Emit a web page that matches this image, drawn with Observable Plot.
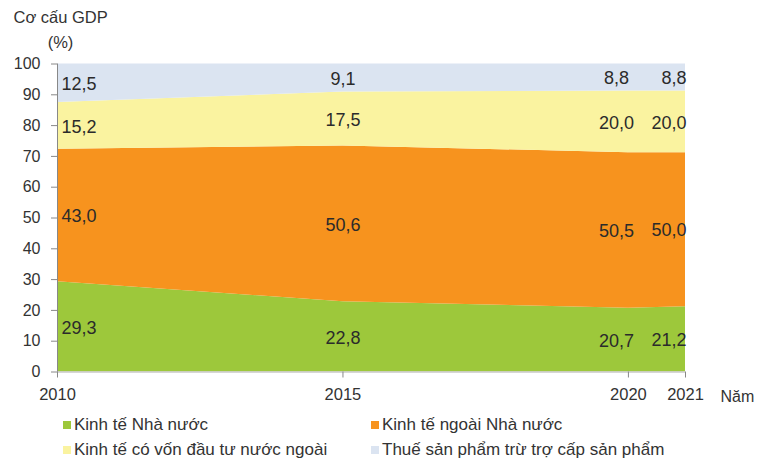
<!DOCTYPE html>
<html><head><meta charset="utf-8">
<script src="https://cdn.jsdelivr.net/npm/d3@7"></script>
<script src="https://cdn.jsdelivr.net/npm/@observablehq/plot@0.6"></script>
<style>
body{margin:0;background:#fff;font-family:"Liberation Sans",Arial,sans-serif;}
#wrap{position:relative;width:763px;height:461px;overflow:hidden;}
#legend{position:absolute;left:0;top:410px;width:763px;height:51px;}
.item{position:absolute;font-size:17px;color:#333;white-space:nowrap;line-height:20px;}
.sw{display:inline-block;width:8px;height:8px;margin-right:3px;vertical-align:1px;}
</style></head><body><div id="wrap"><div id="chart"></div><div id="legend"></div></div>
<script>
const years = [2010, 2015, 2020, 2021];
const seriesNames = ["Kinh tế Nhà nước", "Kinh tế ngoài Nhà nước", "Kinh tế có vốn đầu tư nước ngoài", "Thuế sản phẩm trừ trợ cấp sản phẩm"];
const nhaNuoc = [29.3, 22.8, 20.7, 21.2];
const ngoaiNhaNuoc = [43.0, 50.6, 50.5, 50.0];
const fdi = [15.2, 17.5, 20.0, 20.0];
const thue = [12.5, 9.1, 8.8, 8.8];
const yTicks = [0, 10, 20, 30, 40, 50, 60, 70, 80, 90, 100];
const colors = ["#9dc83b", "#f7931e", "#faf3a0", "#dbe4f1"];
const titleText = "Cơ cấu GDP";
const unitText = "(%)";
const xLabel = "Năm";

const values = [nhaNuoc, ngoaiNhaNuoc, fdi, thue];
const data = [];
years.forEach((yr, i) => {
  let base = 0;
  seriesNames.forEach((s, j) => {
    const v = values[j][i];
    data.push({year: yr, series: s, value: v, mid: base + v / 2});
    base += v;
  });
});
const fmt = v => v.toFixed(1).replace(".", ",");
const labelMark = (yr, anchor, dx) => Plot.text(data.filter(d => d.year === yr), {
  x: "year", y: "mid", text: d => fmt(d.value), textAnchor: anchor, dx, dy: 1,
  fontSize: 18, fill: "#2b2b2b"
});

const plot = Plot.plot({
  width: 763, height: 410,
  marginTop: 63.5, marginBottom: 38.5, marginLeft: 57, marginRight: 78,
  style: {fontFamily: "Liberation Sans, Arial, sans-serif", fontSize: "16px", color: "#333", background: "white"},
  x: {domain: [2010, 2021]},
  y: {domain: [0, 100]},
  color: {domain: seriesNames, range: colors},
  marks: [
    Plot.areaY(data, {x: "year", y: "value", fill: "series", order: seriesNames}),
    Plot.ruleY([0], {stroke: "#c8c8c8", strokeWidth: 1.5}),
    Plot.ruleX([2010], {stroke: "#888"}),
    Plot.axisY({ticks: yTicks, tickSize: 6, tickPadding: 11, stroke: "#888", label: null, fontSize: 16}),
    Plot.axisX({ticks: years, tickFormat: d => String(d), tickSize: 6, tickPadding: 10, stroke: "#888", label: null, fontSize: 16.5}),
    labelMark(2010, "start", 4),
    labelMark(2015, "middle", 0),
    labelMark(2020, "middle", -12),
    labelMark(2021, "end", 1),
    Plot.text([titleText], {frameAnchor: "top-left", textAnchor: "start", lineAnchor: "middle", dx: -44, dy: -46.5, fontSize: 16.5, fill: "#333"}),
    Plot.text([unitText], {frameAnchor: "top-left", textAnchor: "middle", lineAnchor: "middle", dx: 3, dy: -21.5, fontSize: 16.5, fill: "#333"}),
    Plot.text([xLabel], {frameAnchor: "bottom-right", textAnchor: "start", lineAnchor: "middle", dx: 35, dy: 24.5, fontSize: 16, fill: "#333"})
  ]
});
document.getElementById("chart").appendChild(plot);

const legendPos = [[63, 15], [371, 15], [63, 40], [371, 40]];
const leg = document.getElementById("legend");
seriesNames.forEach((s, i) => {
  const d = document.createElement("div");
  d.className = "item";
  d.style.left = legendPos[i][0] + "px";
  d.style.top = (legendPos[i][1] - 10) + "px";
  d.innerHTML = `<span class="sw" style="background:${colors[i]}"></span>${s}`;
  leg.appendChild(d);
});
</script>
</body></html>
